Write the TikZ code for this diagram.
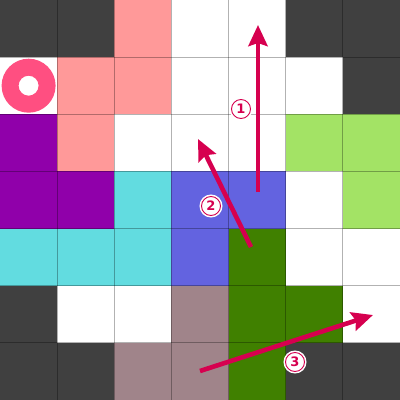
\documentclass[tikz,border=0pt]{standalone}
\usepackage{fontspec}
\newfontfamily\numfont{DejaVu Sans}
\usetikzlibrary{arrows.meta}
\definecolor{dk}{HTML}{404040}
\definecolor{sa}{HTML}{FF9999}
\definecolor{pu}{HTML}{9000AA}
\definecolor{cy}{HTML}{62DCE0}
\definecolor{bl}{HTML}{6363E0}
\definecolor{lg}{HTML}{A3E365}
\definecolor{dg}{HTML}{408000}
\definecolor{ma}{HTML}{A0848A}
\definecolor{wh}{HTML}{FFFFFF}
\definecolor{ring}{HTML}{FF4F81}
\definecolor{crim}{HTML}{D6004F}
\tikzset{
  cell/.style={fill=#1, draw=none},
  gridline/.style={draw=black, draw opacity=0.3, line width=0.8pt},
  move/.style={draw=crim, line width=4.6pt, -{Stealth[length=21pt, width=19pt, inset=3pt]}},
  num/.style={circle, fill=white, draw=crim, line width=0.9pt, text=crim,
    inner sep=0pt, minimum size=19pt, font=\numfont\bfseries\fontsize{13}{13}\selectfont,
    preaction={draw=white, line width=4pt}},
}
\begin{document}
\begin{tikzpicture}[x=1pt, y=-1pt]
\useasboundingbox (0,0) rectangle (400,400);
\def\cs{57.142857}
\foreach \row/\cols in {0/{dk,dk,sa,wh,wh,dk,dk},
                        1/{wh,sa,sa,wh,wh,wh,dk},
                        2/{pu,sa,wh,wh,wh,lg,lg},
                        3/{pu,pu,cy,bl,bl,wh,lg},
                        4/{cy,cy,cy,bl,dg,wh,wh},
                        5/{dk,wh,wh,ma,dg,dg,wh},
                        6/{dk,dk,ma,ma,dg,dk,dk}}{
  \foreach \c [count=\col from 0] in \cols {
    \fill[cell=\c] (\col*\cs, \row*\cs) rectangle ++(\cs,\cs);
  }
}
\foreach \i in {1,...,6}{
  \draw[gridline] (\i*\cs,0) -- (\i*\cs,400);
  \draw[gridline] (0,\i*\cs) -- (400,\i*\cs);
}
% ring
\fill[ring, even odd rule] (28.6,85.7) circle (27) (28.6,85.7) circle (10);
% arrows
\coordinate (a1s) at (258,192);
\coordinate (a1e) at (258,25);
\coordinate (a2s) at (251,247);
\coordinate (a2e) at (198,139);
\coordinate (a3s) at (200,371);
\coordinate (a3e) at (373,315);
\draw[move] (a1s) -- (a1e);
\draw[move] (a2s) -- (a2e);
\draw[move] (a3s) -- (a3e);
\node[num] (n1) at (241,109) {1};
\node[num] (n2) at (211,206) {2};
\node[num] (n3) at (295,362) {3};
\end{tikzpicture}
\end{document}
